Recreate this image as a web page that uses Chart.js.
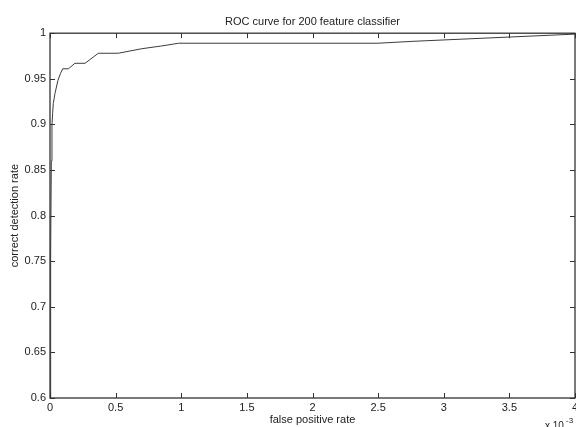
<!DOCTYPE html>
<html>
<head>
<meta charset="utf-8">
<script src="https://cdn.jsdelivr.net/npm/chart.js@4/dist/chart.umd.min.js"></script>
<style>
  html, body { margin: 0; padding: 0; background: #fff; }
  #wrap { width: 576px; height: 427px; position: relative; }
</style>
</head>
<body>
<div id="wrap"><canvas id="roc"></canvas></div>
<script>
// ROC curve points (false positive rate in units of 1e-3)
const falsePositiveRate = [0, 0.005, 0.01, 0.015, 0.02, 0.025, 0.038, 0.06, 0.08, 0.097, 0.14, 0.19, 0.267, 0.368, 0.52, 0.7, 0.85, 0.98, 2.5, 2.75, 4];
const detectionRate = [0.6, 0.76, 0.86, 0.9, 0.912, 0.923, 0.934, 0.948, 0.956, 0.961, 0.961, 0.967, 0.967, 0.978, 0.978, 0.983, 0.986, 0.989, 0.989, 0.991, 0.999];

const xTicks = [0, 0.5, 1, 1.5, 2, 2.5, 3, 3.5, 4];
const yTicks = [0.6, 0.65, 0.7, 0.75, 0.8, 0.85, 0.9, 0.95, 1];

const axisColor = "#333";
const textColor = "#222";
const fontFamily = "'Liberation Sans', Arial, sans-serif";

// draws the box around the plot and matlab-like inward ticks on all four sides
const boxTicks = {
  id: "boxTicks",
  afterDraw(chart) {
    const { ctx, chartArea: a, scales } = chart;
    const len = 5;
    ctx.save();
    ctx.strokeStyle = axisColor;
    ctx.lineWidth = 1;
    xTicks.forEach((v) => {
      const px = Math.round(scales.x.getPixelForValue(v)) + 0.5;
      ctx.beginPath();
      ctx.moveTo(px, a.bottom);
      ctx.lineTo(px, a.bottom - len);
      ctx.moveTo(px, a.top);
      ctx.lineTo(px, a.top + len);
      ctx.stroke();
    });
    yTicks.forEach((v) => {
      const py = Math.round(scales.y.getPixelForValue(v)) + 0.5;
      ctx.beginPath();
      ctx.moveTo(a.left, py);
      ctx.lineTo(a.left + len, py);
      ctx.moveTo(a.right, py);
      ctx.lineTo(a.right - len, py);
      ctx.stroke();
    });
    ctx.lineWidth = 1.3;
    ctx.strokeRect(a.left, a.top, a.right - a.left, a.bottom - a.top);

    // exponent label under the x axis
    ctx.fillStyle = textColor;
    ctx.textBaseline = "alphabetic";
    ctx.textAlign = "left";
    ctx.font = "10px " + fontFamily;
    ctx.fillText("x 10", 545, 429);
    ctx.font = "8px " + fontFamily;
    ctx.fillText("-3", 566, 423);
    ctx.restore();
  }
};

new Chart(document.getElementById("roc"), {
  type: "line",
  data: {
    datasets: [
      {
        data: falsePositiveRate.map((x, i) => ({ x: x, y: detectionRate[i] })),
        borderColor: "#3c3c3c",
        borderWidth: 1,
        pointRadius: 0,
        tension: 0,
        fill: false
      }
    ]
  },
  options: {
    responsive: true,
    maintainAspectRatio: false,
    animation: false,
    layout: { padding: { left: 0, right: 1, top: 0, bottom: 0 } },
    plugins: {
      legend: { display: false },
      tooltip: { enabled: false },
      title: {
        display: true,
        fullSize: false,
        text: "ROC curve for 200 feature classifier",
        color: textColor,
        font: { family: fontFamily, size: 11, weight: "normal" },
        padding: { top: 15, bottom: 5 }
      }
    },
    scales: {
      x: {
        type: "linear",
        min: 0,
        max: 4,
        grid: { display: false, drawTicks: false },
        border: { display: false },
        afterBuildTicks: (s) => { s.ticks = xTicks.map((v) => ({ value: v })); },
        afterFit: (s) => { s.height = 29; s.paddingLeft = 0; s.paddingRight = 0; },
        ticks: {
          color: textColor,
          padding: 3,
          maxRotation: 0,
          font: { family: fontFamily, size: 11 },
          callback: (v) => String(Number(v.toFixed(2)))
        },
        title: {
          display: true,
          text: "false positive rate",
          color: textColor,
          padding: { top: 0, bottom: 0 },
          font: { family: fontFamily, size: 11 }
        }
      },
      y: {
        type: "linear",
        min: 0.6,
        max: 1,
        grid: { display: false, drawTicks: false },
        border: { display: false },
        afterBuildTicks: (s) => { s.ticks = yTicks.map((v) => ({ value: v })); },
        afterFit: (s) => { s.width = 50; s.paddingTop = 0; s.paddingBottom = 0; },
        ticks: {
          color: textColor,
          padding: 4,
          font: { family: fontFamily, size: 11 },
          callback: (v) => String(Number(v.toFixed(2)))
        },
        title: {
          display: true,
          text: "correct detection rate",
          color: textColor,
          padding: { top: 8, bottom: 0 },
          font: { family: fontFamily, size: 11 }
        }
      }
    }
  },
  plugins: [boxTicks]
});
</script>
</body>
</html>
